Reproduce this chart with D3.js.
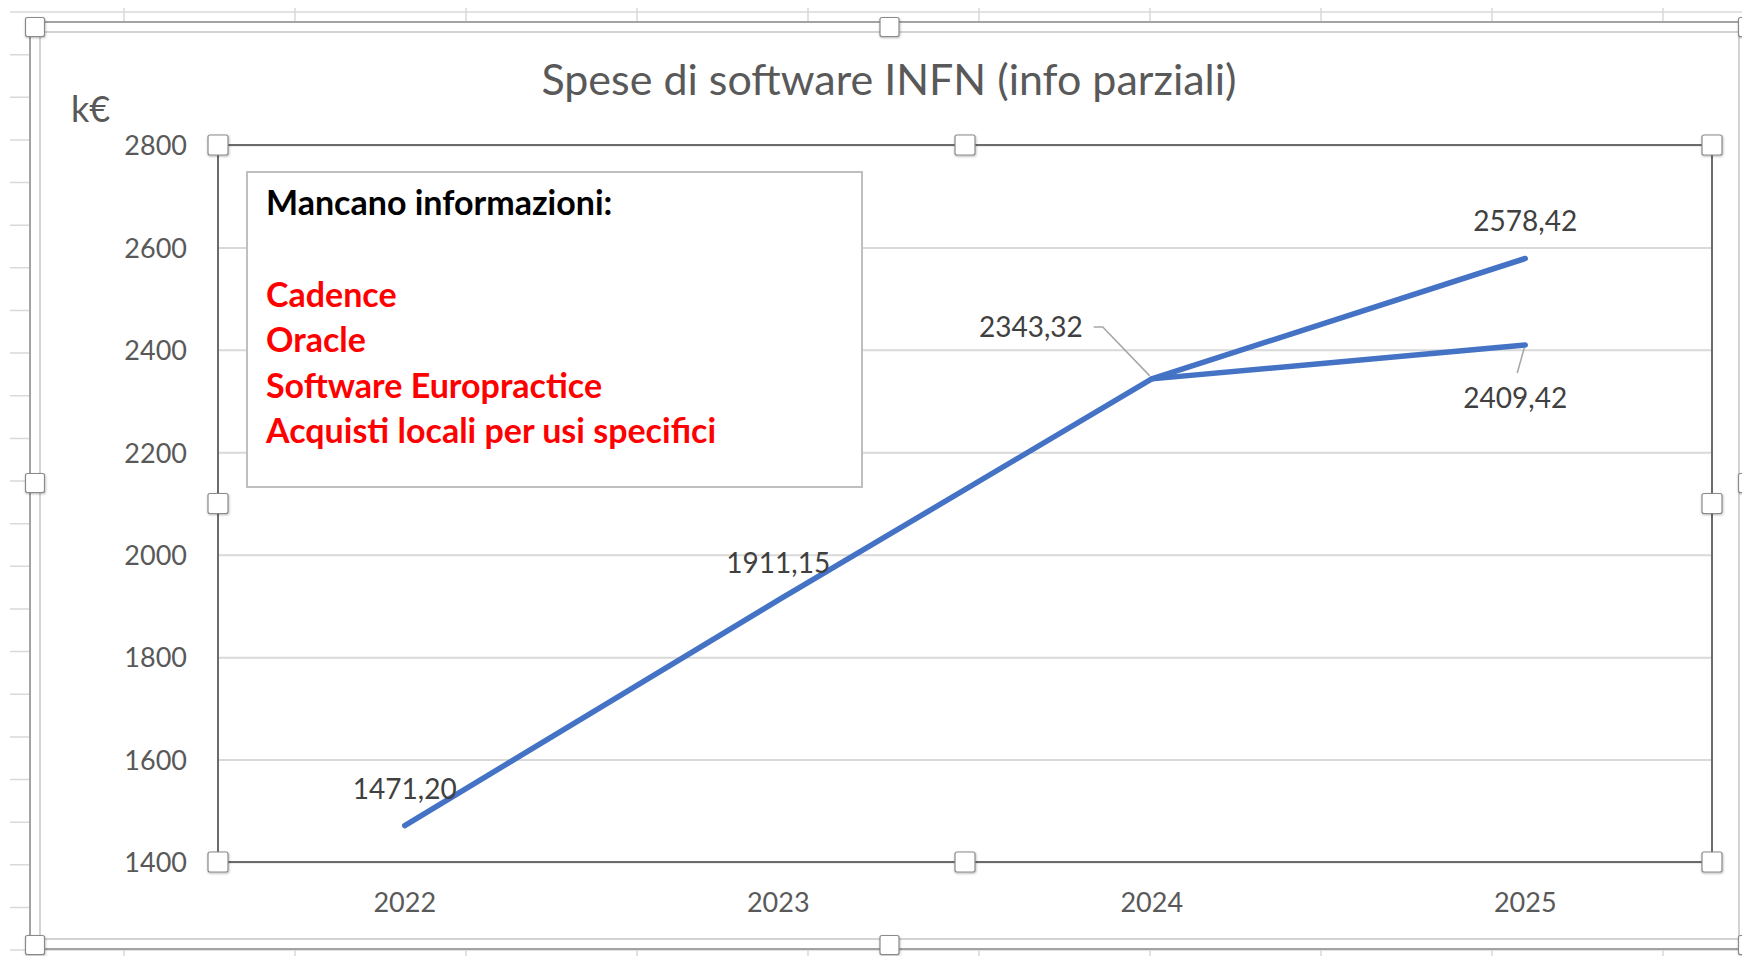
<!DOCTYPE html>
<html><head><meta charset="utf-8">
<script src="https://cdn.jsdelivr.net/npm/d3@7"></script>
<style>
body{margin:0;background:#fff;}
svg{display:block;font-family:Lato, "Open Sans", sans-serif;}
</style>
</head><body>
<svg id="c" width="1742" height="956"></svg>
<script>
// ---------- data ----------
const years = ["2022", "2023", "2024", "2025"];
const spesaAlta = [1471.20, 1911.15, 2343.32, 2578.42];
const spesaBassa = [null, null, 2343.32, 2409.42];
const yTicks = [1400, 1600, 1800, 2000, 2200, 2400, 2600, 2800];
const titleText = "Spese di software INFN (info parziali)";
const unitText = "k€";
const noteTitle = "Mancano informazioni:";
const noteItems = ["Cadence", "Oracle", "Software Europractice", "Acquisti locali per usi specifici"];

// ---------- layout ----------
const W = 1742, H = 956;
const P = {left: 218, right: 1712, top: 145, bottom: 862};
const svg = d3.select("#c");
const itFmt = d3.formatLocale({decimal: ",", thousands: "", grouping: [3], currency: ["", "€"]}).format(".2f");

const defs = svg.append("defs");
defs.append("filter").attr("id", "sh").attr("x", "-50%").attr("y", "-50%").attr("width", "200%").attr("height", "200%")
  .append("feDropShadow").attr("dx", 0.5).attr("dy", 1).attr("stdDeviation", 1.2)
  .attr("flood-color", "#000").attr("flood-opacity", 0.3);

// spreadsheet background grid
const sheet = svg.append("g").attr("stroke", "#d9d9d9").attr("stroke-width", 1.5);
for (let k = 0; k < 23; k++) {
  const yy = 12 + 42.64 * k;
  sheet.append("line").attr("x1", 10).attr("x2", W).attr("y1", yy).attr("y2", yy);
}
for (let k = 0; k < 10; k++) {
  const xx = 124 + 171 * k;
  sheet.append("line").attr("x1", xx).attr("x2", xx).attr("y1", 8).attr("y2", H);
}

// chart area
svg.append("rect").attr("x", 30).attr("y", 22).attr("width", 1719).attr("height", 927).attr("fill", "#fff");
svg.append("rect").attr("x", 30).attr("y", 22).attr("width", 1719).attr("height", 927)
  .attr("fill", "none").attr("stroke", "#a3a3a3").attr("stroke-width", 2);
svg.append("rect").attr("x", 40).attr("y", 32).attr("width", 1699).attr("height", 907)
  .attr("fill", "none").attr("stroke", "#d3d3d3").attr("stroke-width", 2);

// scales
const x = d3.scaleBand().domain(years).range([P.left, P.right]);
const y = d3.scaleLinear().domain([1400, 2800]).range([P.bottom, P.top]);
const cx = yr => x(yr) + x.bandwidth() / 2;

// gridlines + y axis labels
const gy = svg.append("g").attr("transform", `translate(${P.left},0)`)
  .call(d3.axisLeft(y).tickValues(yTicks).tickSize(-(P.right - P.left)).tickPadding(31).tickFormat(d3.format("d")));
gy.select(".domain").remove();
gy.selectAll(".tick line").attr("stroke", "#d9d9d9").attr("stroke-width", 2);
gy.selectAll(".tick text").attr("fill", "#595959").attr("font-size", 27).attr("font-family", "Lato").attr("dy", "0.36em");

// x axis labels
const gx = svg.append("g").attr("transform", `translate(0,${P.bottom})`)
  .call(d3.axisBottom(x).tickSize(0).tickPadding(0));
gx.select(".domain").remove();
gx.selectAll(".tick text").attr("fill", "#595959").attr("font-size", 27).attr("font-family", "Lato")
  .attr("dy", 0).attr("y", 50);

// title + unit
svg.append("text").attr("x", 889).attr("y", 95).attr("text-anchor", "middle")
  .attr("font-size", 43).attr("fill", "#595959").text(titleText);
svg.append("text").attr("x", 71).attr("y", 122)
  .attr("font-size", 36).attr("fill", "#595959").text(unitText);

// note box
svg.append("rect").attr("x", 247).attr("y", 172).attr("width", 615).attr("height", 315)
  .attr("fill", "#fff").attr("stroke", "#bfbfbf").attr("stroke-width", 2);
svg.append("text").attr("x", 266).attr("y", 215).attr("font-size", 34).attr("font-weight", 700)
  .attr("fill", "#000").text(noteTitle);
svg.append("g").selectAll("text").data(noteItems).join("text")
  .attr("x", 266).attr("y", (d, i) => 307 + i * 45.3)
  .attr("font-size", 34).attr("font-weight", 700).attr("fill", "#ff0000").text(d => d);

// lines
const line = d3.line().defined(d => d != null).x((d, i) => cx(years[i])).y(d => y(d));
[spesaBassa, spesaAlta].forEach(s => {
  svg.append("path").datum(s).attr("d", line).attr("fill", "none")
    .attr("stroke", "#4472c4").attr("stroke-width", 5.5)
    .attr("stroke-linejoin", "round").attr("stroke-linecap", "round");
});

// data labels
const lab = svg.append("g").attr("font-size", 28).attr("fill", "#404040");
const leader = svg.append("g").attr("stroke", "#a6a6a6").attr("stroke-width", 1.5).attr("fill", "none");
[0, 1, 3].forEach(i => {
  lab.append("text").attr("x", cx(years[i])).attr("y", y(spesaAlta[i]) - 27)
    .attr("text-anchor", "middle").text(itFmt(spesaAlta[i]));
});
// 2024 label with leader line
{
  const px = cx(years[2]), py = y(spesaAlta[2]);
  lab.append("text").attr("x", px - 69).attr("y", py - 42).attr("text-anchor", "end").text(itFmt(spesaAlta[2]));
  leader.append("path").attr("d", `M${px - 58},${py - 52}H${px - 49}L${px - 2},${py - 3}`);
}
// 2025 lower label with leader line
{
  const px = cx(years[3]), py = y(spesaBassa[3]);
  lab.append("text").attr("x", px - 10).attr("y", py + 63).attr("text-anchor", "middle").text(itFmt(spesaBassa[3]));
  leader.append("path").attr("d", `M${px - 1},${py + 3}L${px - 8},${py + 28}`);
}

// plot frame
svg.append("rect").attr("x", P.left).attr("y", P.top).attr("width", P.right - P.left).attr("height", P.bottom - P.top)
  .attr("fill", "none").attr("stroke", "#6b6b6b").attr("stroke-width", 2);

// selection handles
function handle(hx, hy, s) {
  svg.append("rect").attr("x", hx - s / 2).attr("y", hy - s / 2).attr("width", s).attr("height", s)
    .attr("rx", 2).attr("fill", "#fff").attr("stroke", "#8a8a8a").attr("stroke-width", 1.2)
    .attr("filter", "url(#sh)");
}
const pmx = (P.left + P.right) / 2, pmy = (P.top + P.bottom) / 2;
[[P.left, P.top], [pmx, P.top], [P.right, P.top], [P.left, pmy], [P.right, pmy],
 [P.left, P.bottom], [pmx, P.bottom], [P.right, P.bottom]].forEach(([a, b]) => handle(a, b, 20));
[[35, 27], [889.5, 27], [1748, 27], [35, 483], [1748, 483], [35, 945], [889.5, 945], [1748, 945]]
  .forEach(([a, b]) => handle(a, b, 19));
</script>
</body></html>
